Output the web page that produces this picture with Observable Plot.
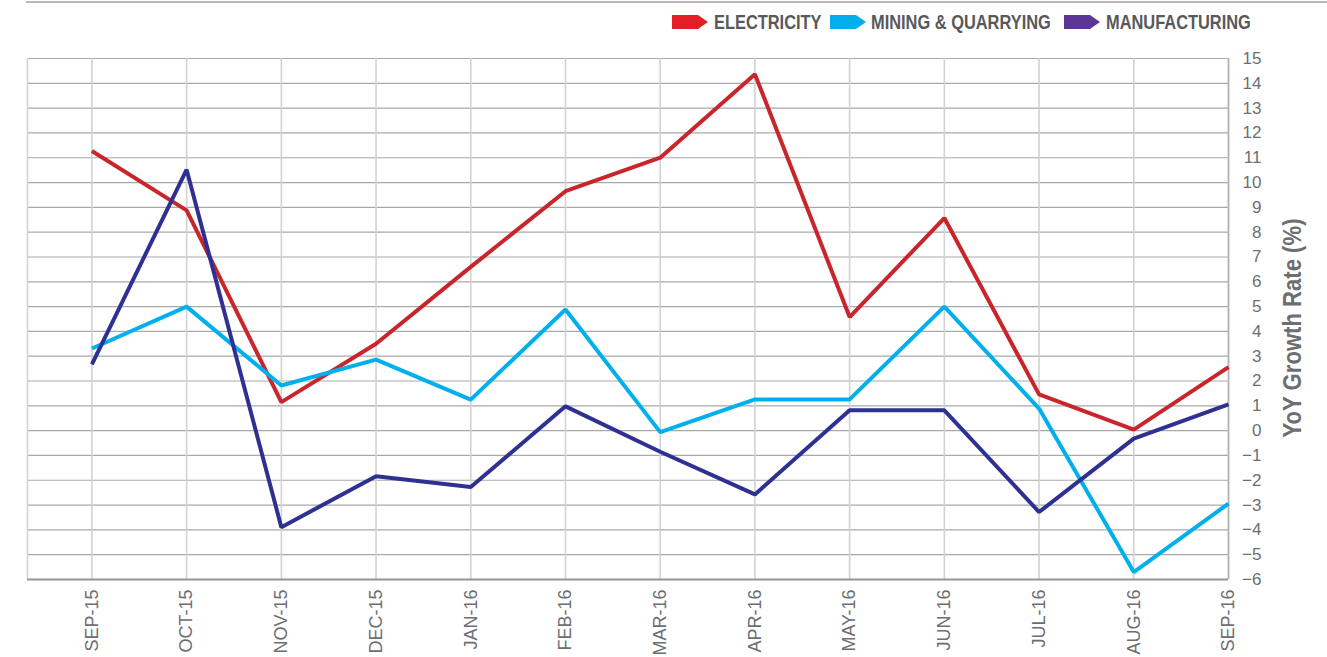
<!DOCTYPE html>
<html>
<head>
<meta charset="utf-8">
<script src="https://cdn.jsdelivr.net/npm/d3@7"></script>
<script src="https://cdn.jsdelivr.net/npm/@observablehq/plot@0.6"></script>
<style>
  body { margin: 0; background: #fff; }
  #wrap { position: relative; width: 1327px; height: 657px; overflow: hidden; }
  #topline { position: absolute; left: 26px; right: 0; top: 1px; height: 2px; background: #BDB8B5; }
  #legend { position: absolute; left: 0; top: 0; width: 1327px; height: 45px; }
  .sw { position: absolute; top: 15px; width: 36px; height: 14px;
        clip-path: polygon(0 0, 72% 0, 100% 50%, 72% 100%, 0 100%); }
  .lt { position: absolute; top: 10px; font-family: 'Liberation Sans', Arial, sans-serif;
        font-weight: bold; font-size: 20px; line-height: 24px; color: #58595B; white-space: nowrap;
        transform: scaleX(0.82); transform-origin: 0 50%; }
  #chart { position: absolute; left: 0; top: 45px; }
</style>
</head>
<body>
<div id="wrap">
  <div id="topline"></div>
  <div id="legend"></div>
  <div id="chart"></div>
</div>
<script>
const months = ["SEP-15","OCT-15","NOV-15","DEC-15","JAN-16","FEB-16","MAR-16","APR-16","MAY-16","JUN-16","JUL-16","AUG-16","SEP-16"];
const electricity   = [11.27, 8.88, 1.15, 3.5, 6.6, 9.65, 11.0, 14.37, 4.58, 8.57, 1.46, 0.04, 2.56];
const mining        = [3.31, 5.0, 1.82, 2.86, 1.25, 4.88, -0.06, 1.26, 1.26, 5.0, 0.89, -5.7, -2.94];
const manufacturing = [2.67, 10.52, -3.89, -1.84, -2.27, 0.98, -0.85, -2.57, 0.82, 0.82, -3.28, -0.32, 1.06];
const seriesNames = ["ELECTRICITY", "MINING & QUARRYING", "MANUFACTURING"];
const lineColors = ["#C9252C", "#00B0EC", "#2E3192"];
const legendColors = ["#E31E26", "#00AEEF", "#5C3694"];
const yTicks = [-6,-5,-4,-3,-2,-1,0,1,2,3,4,5,6,7,8,9,10,11,12,13,14,15];
const yLabel = "YoY Growth Rate (%)";

const seriesValues = [electricity, mining, manufacturing];
const data = seriesNames.flatMap((name, s) => seriesValues[s].map((v, i) => ({series: name, i, v})));
const idx = months.map((m, i) => i);

// legend
const legend = document.getElementById("legend");
const swLeft = [672, 830, 1064];
const txLeft = [714, 871, 1106];
seriesNames.forEach((n, k) => {
  const sw = document.createElement("div");
  sw.className = "sw"; sw.style.left = swLeft[k] + "px"; sw.style.background = legendColors[k];
  legend.appendChild(sw);
  const t = document.createElement("div");
  t.className = "lt"; t.style.left = txLeft[k] + "px"; t.textContent = n;
  legend.appendChild(t);
});

const chart = Plot.plot({
  width: 1327,
  height: 612,
  marginLeft: 27,
  marginRight: 99,
  marginTop: 13,
  marginBottom: 78,
  style: { fontFamily: "'Liberation Sans', Arial, sans-serif", background: "white", overflow: "visible" },
  x: { domain: [-0.68, 12], axis: null },
  y: { domain: [-6, 15], axis: null },
  color: { domain: seriesNames, range: lineColors },
  marks: [
    Plot.ruleY(yTicks, { stroke: "#A7A9AC", strokeWidth: 1.2 }),
    Plot.ruleX([-0.68, ...idx], { stroke: "#D1D3D4", strokeWidth: 1.6 }),
    Plot.ruleX([12], { stroke: "#B3B3B3", strokeWidth: 1.6 }),
    Plot.ruleY([-6], { stroke: "#939598", strokeWidth: 2 }),
    Plot.line(data, { x: "i", y: "v", z: "series", stroke: "series", strokeWidth: 4,
                      strokeLinejoin: "miter", strokeLinecap: "butt" }),
    Plot.axisX(idx, { anchor: "bottom", label: null, tickFormat: i => months[i], tickRotate: -90, tickSize: 0,
                      tickPadding: 10, fontSize: 18, fill: "#6D6E71" }),
    Plot.axisY(yTicks, { anchor: "right", label: null, tickSize: 0, tickPadding: 0, textAnchor: "end", dx: 33,
                         fontSize: 17, fill: "#6D6E71" }),
    Plot.text([yLabel], { frameAnchor: "right", rotate: -90, dx: 64, dy: 9, textAnchor: "middle",
                          lineAnchor: "middle", fontSize: 26, fontWeight: "bold", fill: "#6D6E71",
                          className: "ylab" })
  ]
});
document.getElementById("chart").appendChild(chart);
chart.querySelectorAll(".ylab text").forEach(t => {
  t.setAttribute("textLength", "219");
  t.setAttribute("lengthAdjust", "spacingAndGlyphs");
});
</script>
</body>
</html>
